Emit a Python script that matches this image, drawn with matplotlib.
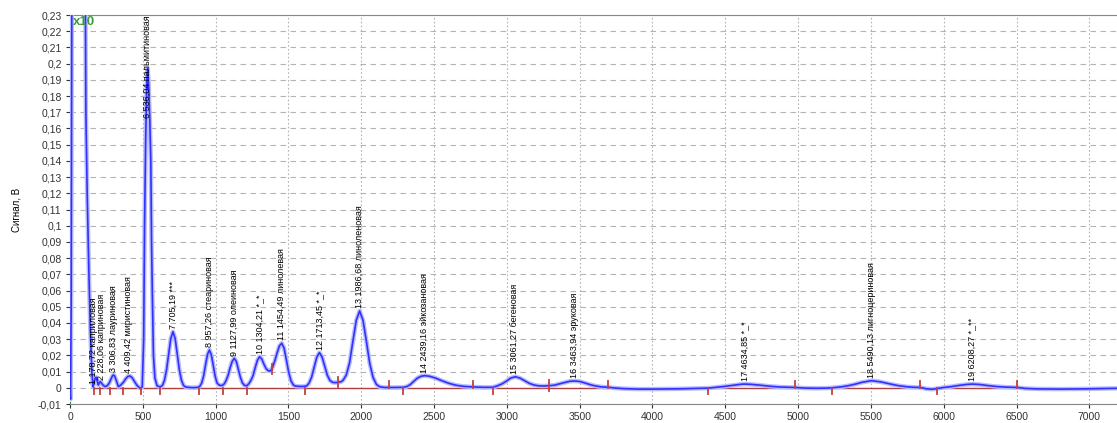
import numpy as np
import matplotlib
matplotlib.use("Agg")
import matplotlib.pyplot as plt

plt.rcParams['font.family'] = ['Liberation Sans', 'DejaVu Sans']

# хроматограмма, точки (время, с / сигнал, В)
# начало: растворитель и лёгкие кислоты
seg_a_t = [0, 4, 8, 14, 103, 109, 118, 130, 140, 150, 158, 165, 172, 179, 187, 195,
           201, 207, 214, 225, 240, 255, 270, 282, 292, 299, 307, 318, 332, 345, 355,
           368, 382, 397, 412, 427, 442, 460, 481, 496, 506, 512, 520, 528, 534, 541,
           548, 555, 560, 566, 573, 583, 598]
seg_a_v = [-0.003, -0.007, 0.05, 0.30, 0.30, 0.17, 0.12, 0.07, 0.035, 0.01, 0.0007,
           0.003, 0.0058, 0.0065, 0.004, 0.0017, 0.003, 0.0038, 0.0032, 0.0018, 0.0007,
           0.0012, 0.003, 0.0055, 0.0074, 0.0079, 0.0072, 0.0045, 0.0007, 0.0014, 0.0023,
           0.0035, 0.0055, 0.007, 0.0073, 0.0062, 0.004, 0.0015, -0.0003, 0.0005, 0.03,
           0.10, 0.155, 0.19, 0.197, 0.185, 0.165, 0.14, 0.09, 0.055, 0.02, 0.006, 0.0012]

# пики 7-13
seg_b_t = [620, 635, 649, 663, 678, 692, 707, 722, 736, 751, 765, 779, 794, 820, 850,
           882, 892, 905, 918, 931, 944, 957, 970, 983, 996, 1009, 1022, 1035, 1047,
           1060, 1072, 1086, 1100, 1114, 1128, 1142, 1156, 1170, 1184, 1198, 1214,
           1228, 1242, 1257, 1272, 1287, 1302, 1317, 1332, 1347, 1362, 1378,
           1392, 1406, 1422, 1438, 1454, 1470, 1486, 1502, 1518, 1534, 1550, 1570, 1590,
           1613, 1625, 1641, 1659, 1677, 1695, 1713, 1731, 1749, 1767, 1785, 1805, 1825,
           1843, 1860, 1874, 1897, 1920, 1943, 1966, 1989, 2012, 2035, 2058, 2081, 2104,
           2127, 2160, 2192, 2230]
seg_b_v = [0.0005, 0.0015, 0.0047, 0.0111, 0.0211, 0.0304, 0.0346, 0.0304, 0.0211,
           0.0111, 0.0047, 0.0015, 0.0005, 0.0002, 0.0001,
           0.0003, 0.001, 0.0031, 0.0075, 0.0142, 0.0205, 0.0233, 0.0205, 0.0142, 0.0075,
           0.0031, 0.0018, 0.0014, 0.0015,
           0.0025, 0.0045, 0.0078, 0.0125, 0.0163, 0.0182, 0.0163, 0.0115, 0.0065, 0.003,
           0.0015, 0.0012,
           0.0025, 0.0045, 0.0075, 0.0125, 0.017, 0.0192, 0.0178, 0.0145, 0.0118, 0.0104,
           0.0105,
           0.0128, 0.0165, 0.0215, 0.0258, 0.0275, 0.0245, 0.0172, 0.0095, 0.0042, 0.0017,
           0.001, 0.0009, 0.0008,
           0.0009, 0.0012, 0.0028, 0.0065, 0.0128, 0.019, 0.0217, 0.019, 0.0135, 0.0078,
           0.0045, 0.0033, 0.0032,
           0.0034, 0.0037, 0.0045, 0.0078, 0.0155, 0.0289, 0.0417, 0.0474, 0.0417, 0.0289,
           0.0152, 0.0064, 0.0021, 0.0006, 0.0002, 0.0002, 0.0002]

# пики 14-16
seg_c_t = [2290, 2314, 2338, 2362, 2386, 2410, 2436, 2470, 2510, 2550, 2600, 2650, 2700,
           2770, 2840, 2903, 2935, 2968, 3000, 3026, 3058, 3090, 3123, 3155, 3188, 3220,
           3255, 3292, 3325, 3360, 3395, 3430, 3465, 3500, 3535, 3570, 3605, 3645, 3697]
seg_c_v = [0.0003, 0.0008, 0.0021, 0.0041, 0.006, 0.0071, 0.0075, 0.0071, 0.006, 0.0045,
           0.0028, 0.0016, 0.0009, 0.0005, 0.0003, 0.0003, 0.0012, 0.0025, 0.0043, 0.006,
           0.0068, 0.006, 0.0043, 0.0027, 0.0017, 0.0012, 0.0011, 0.0013, 0.0016, 0.0024,
           0.0032, 0.004, 0.0042, 0.0039, 0.003, 0.002, 0.0012, 0.0006, 0.0003]

# хвост: пики 17-19
seg_d_t = [3750, 3800, 3900, 4000, 4100, 4200, 4300, 4384, 4450, 4500, 4550, 4600, 4630,
           4680, 4740, 4800, 4870, 4930, 4979, 5050, 5130, 5200, 5231, 5290, 5340, 5390,
           5440, 5505, 5570, 5630, 5690, 5750, 5800, 5838, 5880, 5920, 5952, 6000, 6050,
           6100, 6150, 6195, 6250, 6300, 6360, 6430, 6506, 6560, 6650, 6800, 6950, 7100,
           7200]
seg_d_v = [-0.0002, -0.0005, -0.0008, -0.0008, -0.0007, -0.0006, -0.0004, -0.0002,
           0.0004, 0.0009, 0.0015, 0.0021, 0.0023, 0.0021, 0.0016, 0.001, 0.0005, 0.0003,
           0.0002, -0.0002, -0.0003, -0.0002, 0.0, 0.0005, 0.0012, 0.0022, 0.0034, 0.0044,
           0.0036, 0.0024, 0.0013, 0.0006, 0.0003, 0.0002, -0.0006, -0.0009, -0.0005,
           0.0002, 0.0007, 0.0014, 0.002, 0.0023, 0.002, 0.0014, 0.0008, 0.0004, 0.0002,
           -0.0004, -0.0007, -0.0008, -0.0007, -0.0005, -0.0003]

# подписи пиков
peak_t = [158, 214, 299, 405, 534, 707, 957, 1128, 1302, 1454, 1713, 1989, 2436, 3058,
          3465, 4630, 5505, 6195]
peak_names = ["1 178,72 каприловая", "2 228,06 каприновая", "3 306,83 лауриновая",
              "4 409,42 миристиновая", "6 536,04 пальмитиновая", "7 705,19 ***",
              "8 957,26 стеариновая", "9 1127,99 олеиновая", "10 1304,21 *_*",
              "11 1454,49 линолевая", "12 1713,45 *_*", "13 1986,68 линоленовая",
              "14 2439,16 эйкозановая", "15 3061,27 бегеновая", "16 3463,94 эруковая",
              "17 4634,85 *_*", "18 5490,13 лигноцериновая", "19 6208,27 *_**"]

# базовая линия и границы пиков
base_start = [160, 4384, 5231, 5952]
base_end = [3697, 4979, 5838, 6506]
bound_t = [165, 206, 275, 362, 490, 620, 885, 1050, 1215, 1385, 1614, 1843, 2192, 2289,
           2770, 2903, 3292, 3697, 4384, 4979, 5231, 5838, 5952, 6506]
bound_kind = ['s', 's', 's', 's', 's', 's', 's', 's', 's', 'm', 's', 'm', 'e', 's',
              'e', 's', 'm', 'e', 's', 'e', 's', 'e', 's', 'e']

t = np.array(seg_a_t + seg_b_t + seg_c_t + seg_d_t, dtype=float)
v = np.array(seg_a_v + seg_b_v + seg_c_v + seg_d_v)

fig = plt.figure(figsize=(11.17, 4.23), dpi=100)
ax = fig.add_axes([70 / 1117, 1 - 404 / 423, 1047 / 1117, 389 / 423])

ymin, ymax = -0.01, 0.23
ax.set_xlim(0, 7190)
ax.set_ylim(ymin, ymax)

yt = np.round(np.arange(-0.01, 0.2301, 0.01), 2)
ax.set_yticks(yt)
ax.set_yticklabels([('%g' % y).replace('.', ',') for y in yt])
ax.set_xticks(np.arange(0, 7001, 500))
ax.tick_params(labelsize=7.5, length=3, colors='#333333', pad=3)

ax.grid(axis='y', color='#b4b4b4', linestyle=(0, (5, 4)), lw=0.8)
ax.grid(axis='x', color='#b4b4b4', linestyle=(0, (1.5, 2)), lw=0.8)
ax.set_axisbelow(True)

for s in ['top', 'bottom']:
    ax.spines[s].set_color('#888888')
ax.spines['right'].set_visible(False)
ax.spines['left'].set_color('#3c9c3c')
ax.spines['left'].set_linestyle((0, (2, 2)))

# базовая линия
for a, b in zip(base_start, base_end):
    ax.plot([a, b], [0, 0], color='#b04040', lw=1.0, zorder=2)

# сигнал
ax.plot(t, v, color='#b8bcff', lw=3.2, zorder=3, solid_joinstyle='round')
ax.plot(t, v, color='#3030ff', lw=1.2, zorder=4)

# метки границ
tick_h = 0.004
for bt, k in zip(bound_t, bound_kind):
    if k == 's':
        y0, y1 = -tick_h, 0
    elif k == 'e':
        y0, y1 = 0, tick_h
    else:
        c = np.interp(bt, t, v)
        y0, y1 = c - tick_h * 0.8, c + tick_h * 0.8
    ax.plot([bt, bt], [y0, y1], color='#c04040', lw=1.3, zorder=5)

# подписи
for pt, name in zip(peak_t, peak_names):
    apex = np.interp(pt, t, v)
    if apex > 0.1:
        ax.text(pt, ymax, name, rotation=90, ha='center', va='top', fontsize=6.5,
                color='black', zorder=6)
    else:
        ax.annotate(name, (pt, apex), xytext=(0, 2), textcoords='offset points',
                    rotation=90, ha='center', va='bottom', fontsize=6.5,
                    color='black', zorder=6)

ax.text(0.003, 0.998, 'x10', transform=ax.transAxes, color='#3a9a3a', fontsize=9.5,
        fontweight='bold', ha='left', va='top', zorder=7)

ax.set_ylabel('Сигнал, В', fontsize=7, labelpad=12)
ax.set_xlabel('Время, с', fontsize=7.5, labelpad=3)

fig.savefig('out.png', dpi=100)
